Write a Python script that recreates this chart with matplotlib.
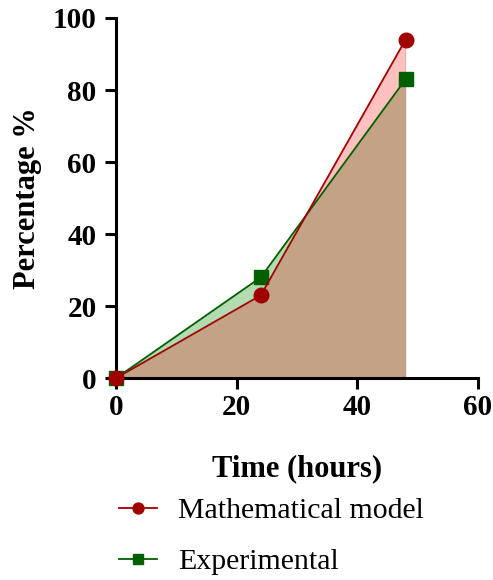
import numpy as np
import matplotlib
matplotlib.use('Agg')
from matplotlib import pyplot as plt

plt.rcParams['font.family'] = ['Liberation Serif', 'DejaVu Serif']

time_h = [0, 24, 48]
model = [0, 23, 94]
experimental = [0, 28, 83]

red = '#a00000'
green = '#006000'

fig = plt.figure(figsize=(4.93, 5.80), dpi=100)
ax = fig.add_axes([0.2353, 0.348, 0.7343, 0.621])

x = np.array(time_h)
m = np.array(model)
e = np.array(experimental)

# shared area under both curves, then the gaps between them
ax.fill_between(x, 0, m, color='#c4a286', lw=0, zorder=1)
ax.fill_between(x, 0, e, color='#c4a286', lw=0, zorder=1)
ax.fill_between(x, e, m, where=m >= e, interpolate=True, color='#ffc0c0', lw=0, zorder=1)
ax.fill_between(x, m, e, where=e > m, interpolate=True, color='#b3dab3', lw=0, zorder=1)

ax.plot(x, e, color=green, lw=1.3, marker='s', ms=10.5, label='Experimental', zorder=3, clip_on=False)
ax.plot(x, m, color=red, lw=1.3, marker='o', ms=10.5, label='Mathematical model', zorder=4, clip_on=False)

ax.set_xlim(0, 60)
ax.set_ylim(0, 100)
ax.set_xticks([0, 20, 40, 60])
ax.set_yticks([0, 20, 40, 60, 80, 100])
for s in ['top', 'right']:
    ax.spines[s].set_visible(False)
for s in ['left', 'bottom']:
    ax.spines[s].set_linewidth(2.2)
ax.tick_params(width=2.2, length=8, labelsize=21)
ax.tick_params(axis='y', pad=6)
for lab in ax.get_xticklabels() + ax.get_yticklabels():
    lab.set_fontweight('bold')

ax.set_xlabel('Time (hours)', fontsize=22, fontweight='bold', labelpad=24)
ax.set_ylabel('Percentage %', fontsize=22, fontweight='bold', labelpad=8)

h, l = ax.get_legend_handles_labels()
fig.legend(h[::-1], l[::-1], loc='upper left', bbox_to_anchor=(0.218, 0.163),
           frameon=False, fontsize=21.5, labelspacing=0.8, handlelength=1.25, handletextpad=0.7,
           markerscale=0.75, borderaxespad=0)

plt.savefig('out.png', dpi=100)
